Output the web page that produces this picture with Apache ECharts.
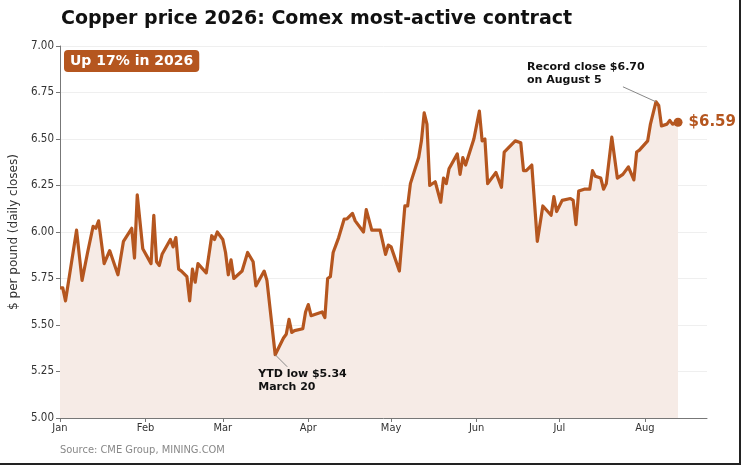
<!DOCTYPE html>
<html lang="en">
<head>
<meta charset="utf-8" />
<title>Copper price 2026</title>
<script src="https://cdn.jsdelivr.net/npm/echarts@6/dist/echarts.min.js"></script>
<style>
    html, body { margin: 0; padding: 0; background: #fff; }
    #frame { width: 741px; height: 465px; box-sizing: border-box; border-right: 2px solid #222; border-bottom: 2px solid #222; }
    #chart { width: 739px; height: 463px; }
</style>
</head>
<body>
<div id="frame"><div id="chart"></div></div>
<script>
// daily closes (turning points)
var dates = [
    '2026-01-01','2026-01-02','2026-01-03','2026-01-07','2026-01-09','2026-01-11','2026-01-13','2026-01-14',
    '2026-01-15','2026-01-17','2026-01-19','2026-01-22','2026-01-24','2026-01-27','2026-01-28','2026-01-29',
    '2026-01-31','2026-02-03','2026-02-04','2026-02-05','2026-02-06','2026-02-07','2026-02-10','2026-02-11',
    '2026-02-12','2026-02-13','2026-02-14','2026-02-16','2026-02-17','2026-02-18','2026-02-19','2026-02-20',
    '2026-02-23','2026-02-25','2026-02-26','2026-02-27','2026-03-01','2026-03-02','2026-03-03','2026-03-04',
    '2026-03-05','2026-03-08','2026-03-10','2026-03-12','2026-03-13','2026-03-16','2026-03-17','2026-03-20',
    '2026-03-23','2026-03-24','2026-03-25','2026-03-26','2026-03-27','2026-03-30','2026-03-31','2026-04-01',
    '2026-04-02','2026-04-06','2026-04-07','2026-04-08','2026-04-09','2026-04-10','2026-04-12','2026-04-14',
    '2026-04-15','2026-04-17','2026-04-18','2026-04-21','2026-04-22','2026-04-24','2026-04-27','2026-04-29',
    '2026-04-30','2026-05-01','2026-05-04','2026-05-06','2026-05-07','2026-05-08','2026-05-11','2026-05-12',
    '2026-05-13','2026-05-14','2026-05-15','2026-05-17','2026-05-19','2026-05-20','2026-05-21','2026-05-22',
    '2026-05-25','2026-05-26','2026-05-27','2026-05-28','2026-05-31','2026-06-02','2026-06-03','2026-06-04',
    '2026-06-05','2026-06-08','2026-06-10','2026-06-11','2026-06-15','2026-06-17','2026-06-18','2026-06-19',
    '2026-06-21','2026-06-23','2026-06-25','2026-06-28','2026-06-29','2026-06-30','2026-07-02','2026-07-05',
    '2026-07-06','2026-07-07','2026-07-08','2026-07-10','2026-07-12','2026-07-13','2026-07-14','2026-07-16',
    '2026-07-17','2026-07-18','2026-07-20','2026-07-22','2026-07-24','2026-07-26','2026-07-28','2026-07-29',
    '2026-07-30','2026-08-02','2026-08-03','2026-08-05','2026-08-06','2026-08-07','2026-08-09','2026-08-10',
    '2026-08-11','2026-08-13'
];
var closes = [
    5.70, 5.70, 5.63, 6.01, 5.74, 5.89, 6.03, 6.02,
    6.06, 5.83, 5.90, 5.77, 5.95, 6.02, 5.86, 6.20,
    5.91, 5.83, 6.09, 5.84, 5.82, 5.88, 5.96, 5.92,
    5.97, 5.80, 5.79, 5.76, 5.63, 5.80, 5.73, 5.83,
    5.78, 5.98, 5.96, 6.00, 5.96, 5.89, 5.77, 5.85,
    5.75, 5.79, 5.89, 5.84, 5.71, 5.79, 5.74, 5.34,
    5.43, 5.45, 5.53, 5.46, 5.47, 5.48, 5.57, 5.61,
    5.55, 5.57, 5.54, 5.75, 5.76, 5.89, 5.97, 6.07,
    6.07, 6.10, 6.06, 6.00, 6.12, 6.01, 6.01, 5.88,
    5.93, 5.92, 5.79, 6.14, 6.14, 6.26, 6.40, 6.49,
    6.64, 6.58, 6.25, 6.27, 6.16, 6.29, 6.26, 6.34,
    6.42, 6.31, 6.40, 6.36, 6.50, 6.65, 6.49, 6.50,
    6.26, 6.32, 6.24, 6.43, 6.49, 6.48, 6.33, 6.33,
    6.36, 5.95, 6.14, 6.09, 6.19, 6.11, 6.17, 6.18,
    6.17, 6.04, 6.22, 6.23, 6.23, 6.33, 6.30, 6.29,
    6.23, 6.26, 6.51, 6.29, 6.31, 6.35, 6.28, 6.43,
    6.44, 6.49, 6.58, 6.70, 6.68, 6.57, 6.58, 6.60,
    6.58, 6.59
];
var monthStarts = ['2026-01-01','2026-02-01','2026-03-01','2026-04-01','2026-05-01','2026-06-01','2026-07-01','2026-08-01'];
var monthLabels = ['Jan','Feb','Mar','Apr','May','Jun','Jul','Aug'];
var yTicks = [5.00, 5.25, 5.50, 5.75, 6.00, 6.25, 6.50, 6.75, 7.00];

var lowDate = '2026-03-20', lowValue = 5.34;
var recordDate = '2026-08-05', recordValue = 6.70;

var copper = '#b5561f';
var font = 'DejaVu Sans';
var tickFont = 'DejaVu Sans Condensed, DejaVu Sans';

function ts(d) { return Date.UTC(+d.slice(0, 4), +d.slice(5, 7) - 1, +d.slice(8, 10)); }

var monthTimes = monthStarts.map(ts);
var seriesData = dates.map(function (d, i) { return [ts(d), closes[i]]; });
var last = seriesData[seriesData.length - 1];

var chart = echarts.init(document.getElementById('chart'), null, { renderer: 'canvas' });

chart.setOption({
    animation: false,
    backgroundColor: '#fff',
    title: {
        text: 'Copper price 2026: Comex most-active contract',
        left: 56, top: 5,
        textStyle: { fontFamily: font, fontSize: 19, fontWeight: 'bold', color: '#111' }
    },
    grid: { left: 60, right: 32, top: 46, bottom: 45 },
    xAxis: {
        type: 'value',
        min: ts('2026-01-01'),
        max: ts('2026-08-23') + 12 * 3600e3,
        axisLine: { show: true, onZero: false, lineStyle: { color: '#777', width: 1 } },
        axisTick: { show: true, length: 4, customValues: monthTimes, lineStyle: { color: '#777' } },
        axisLabel: {
            customValues: monthTimes,
            fontFamily: tickFont, fontSize: 11, color: '#333', margin: 5,
            formatter: function (v) { return monthLabels[new Date(v).getUTCMonth()]; }
        },
        splitLine: { show: false }
    },
    yAxis: {
        type: 'value',
        min: yTicks[0], max: yTicks[yTicks.length - 1], interval: 0.25,
        name: '$ per pound (daily closes)',
        nameLocation: 'middle', nameGap: 40,
        nameTextStyle: { fontFamily: font, fontSize: 12, color: '#333' },
        axisLine: { show: true, lineStyle: { color: '#777', width: 1 } },
        axisTick: { show: true, length: 4, lineStyle: { color: '#777' } },
        axisLabel: {
            fontFamily: tickFont, fontSize: 11.5, color: '#333', margin: 6,
            formatter: function (v) { return v.toFixed(2); }
        },
        splitLine: { lineStyle: { color: '#efefef', width: 1 } }
    },
    series: [
        {
            type: 'line',
            data: seriesData,
            showSymbol: false,
            lineStyle: { color: copper, width: 3.2, join: 'round' },
            areaStyle: { color: '#f6ebe6', opacity: 1, origin: 'start' },
            z: 3
        },
        {
            type: 'scatter',
            data: [last],
            symbolSize: 9,
            itemStyle: { color: copper, opacity: 1 },
            label: {
                show: true, position: 'right', distance: 6,
                formatter: '$' + last[1].toFixed(2),
                fontFamily: font, fontSize: 15, fontWeight: 'bold', color: copper, opacity: 1
            },
            z: 4
        }
    ]
});

var lowPx = chart.convertToPixel({ seriesIndex: 0 }, [ts(lowDate), lowValue]);
var recPx = chart.convertToPixel({ seriesIndex: 0 }, [ts(recordDate), recordValue]);
var noteStyle = { fontFamily: font, fontSize: 11, fontWeight: 'bold', fill: '#111', lineHeight: 13 };

chart.setOption({
    graphic: [
        {
            type: 'text', left: 64, top: 50,
            style: {
                text: 'Up 17% in 2026', fill: '#fff', backgroundColor: copper,
                padding: [4, 6, 4, 6], borderRadius: 4,
                fontFamily: font, fontSize: 14, fontWeight: 'bold'
            }
        },
        {
            type: 'line',
            shape: { x1: lowPx[0], y1: lowPx[1], x2: lowPx[0] + 12, y2: lowPx[1] + 12 },
            style: { stroke: '#888', lineWidth: 1 }, z: 10
        },
        {
            type: 'text', x: lowPx[0] - 17, y: lowPx[1] + 13,
            style: Object.assign({ text: 'YTD low $5.34\nMarch 20' }, noteStyle), z: 10
        },
        {
            type: 'line',
            shape: { x1: recPx[0], y1: recPx[1], x2: recPx[0] - 33, y2: recPx[1] - 15 },
            style: { stroke: '#888', lineWidth: 1 }, z: 10
        },
        {
            type: 'text', x: 527, y: 61,
            style: Object.assign({ text: 'Record close $6.70\non August 5' }, noteStyle), z: 10
        },
        {
            type: 'text', left: 60, top: 445,
            style: { text: 'Source: CME Group, MINING.COM', fill: '#888', fontFamily: tickFont, fontSize: 11 }
        }
    ]
});
</script>
</body>
</html>
